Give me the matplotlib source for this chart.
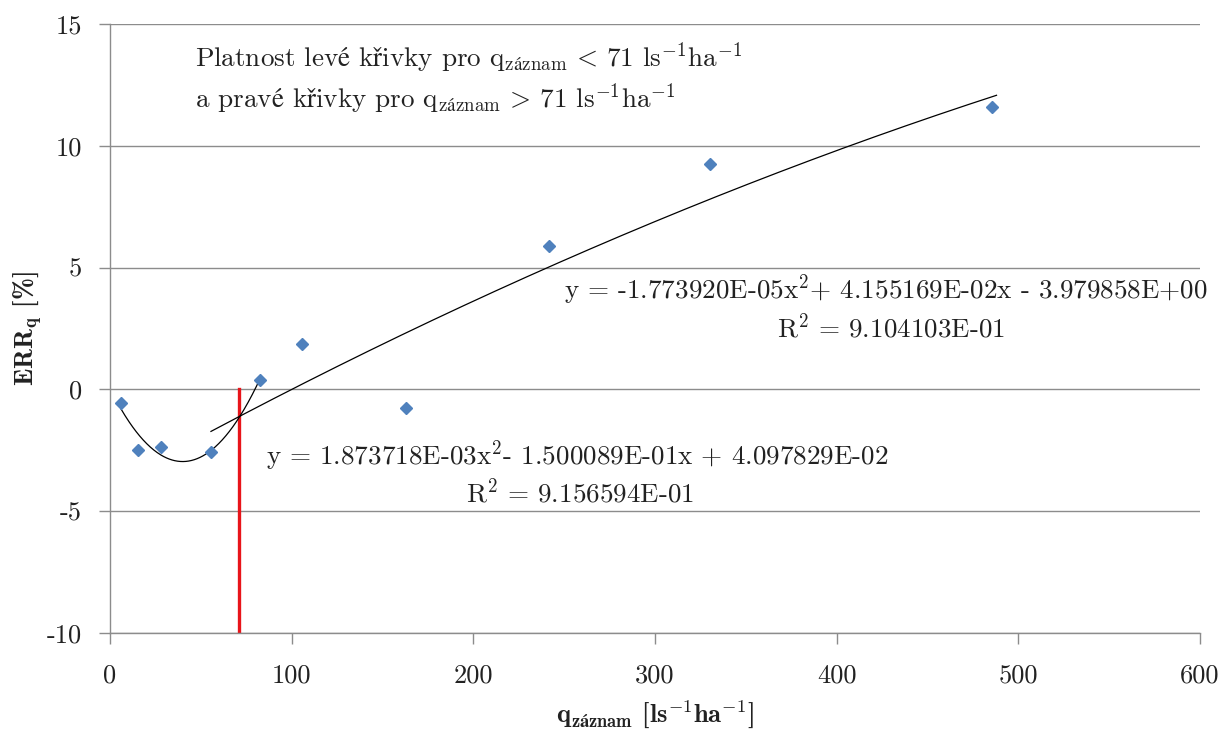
import matplotlib
matplotlib.use("Agg")
import matplotlib.pyplot as plt
import numpy as np

# measured points
q_zaznam = [6.0, 15.4, 28.1, 55.6, 82.6, 105.7, 162.9, 241.6, 330.3, 485.5]
err_q = [-0.56, -2.49, -2.36, -2.57, 0.39, 1.86, -0.76, 5.89, 9.25, 11.59]

# polynomial trend lines (a*x^2 + b*x + c)
left_coef = [1.873718e-03, -1.500089e-01, 4.097829e-02]
left_range = [6.0, 82.6]
right_coef = [-1.773920e-05, 4.155169e-02, -3.979858e+00]
right_range = [55.6, 488.0]

q_limit = 71

x_ticks = [0, 100, 200, 300, 400, 500, 600]
y_ticks = [-10, -5, 0, 5, 10, 15]

plt.rcParams["font.family"] = ["cmr10", "Liberation Serif"]
plt.rcParams["mathtext.fontset"] = "cm"
plt.rcParams["axes.unicode_minus"] = False
plt.rcParams["axes.formatter.use_mathtext"] = False

fig = plt.figure(figsize=(12.19, 7.33), dpi=100)
ax = fig.add_axes([0.0902, 0.1364, 0.8942, 0.8309])

gray = "#8c8c8c"
ax.set_xlim(0, 600)
ax.set_ylim(-10, 15)
ax.set_xticks(x_ticks)
ax.set_yticks(y_ticks)
ax.yaxis.grid(True, color=gray, linewidth=1.0)
ax.set_axisbelow(True)
for s in ["top", "right"]:
    ax.spines[s].set_visible(False)
for s in ["left", "bottom"]:
    ax.spines[s].set_color(gray)
    ax.spines[s].set_linewidth(1.0)
ax.tick_params(axis="both", direction="out", length=8, width=1.0, color=gray,
               labelsize=19, labelcolor="#222222")
ax.tick_params(axis="x", pad=14)
ax.tick_params(axis="y", pad=12)

# red limit line
ax.plot([q_limit, q_limit], [-10, 0], color="#e8141a", linewidth=2.4, zorder=2)

# trend curves
xl = np.linspace(left_range[0], left_range[1], 200)
ax.plot(xl, np.polyval(left_coef, xl), color="black", linewidth=0.9, zorder=3)
xr = np.linspace(right_range[0], right_range[1], 200)
ax.plot(xr, np.polyval(right_coef, xr), color="black", linewidth=0.9, zorder=3)

ax.plot(q_zaznam, err_q, linestyle="none", marker="D", markersize=6.5,
        color="#4f81bd", zorder=4)

# cmr10 has no accented letters, so those go through mathtext
e_acc = "$\\mathrm{\u00e9}$"
r_car = "$\\mathrm{\u0159}$"
q_sub = "$\\mathrm{q}_{\\mathrm{z\u00e1znam}}$"
unit = "ls$^{-1}$ha$^{-1}$"

tc = "#222222"
fs = 19.5
ax.text(47, 13.6,
        f"Platnost lev{e_acc} k{r_car}ivky pro {q_sub}$\\,<\\,$71 {unit}",
        fontsize=fs, color=tc, ha="left", va="center")
ax.text(47, 11.95,
        f"a prav{e_acc} k{r_car}ivky pro {q_sub}$\\,>\\,$71 {unit}",
        fontsize=fs, color=tc, ha="left", va="center")

ax.text(427, 4.1, "y = -1.773920E-05x$^2$+ 4.155169E-02x - 3.979858E+00",
        fontsize=fs, color=tc, ha="center", va="center", clip_on=False)
ax.text(430, 2.55, "R$^2$ = 9.104103E-01",
        fontsize=fs, color=tc, ha="center", va="center")

ax.text(257, -2.7, "y = 1.873718E-03x$^2$- 1.500089E-01x + 4.097829E-02",
        fontsize=fs, color=tc, ha="center", va="center")
ax.text(259, -4.2, "R$^2$ = 9.156594E-01",
        fontsize=fs, color=tc, ha="center", va="center")

ax.set_xlabel("$\\mathbf{q}_{\\mathbf{z\u00e1znam}}$ [ls$^{\\mathbf{-1}}$ha$^{\\mathbf{-1}}$]",
              fontsize=19, family=["cmb10", "Liberation Serif"], color=tc, labelpad=8)
ax.set_ylabel("$\\mathbf{ERR}_{\\mathbf{q}}$ [%]",
              fontsize=19, family=["cmb10", "Liberation Serif"], color=tc, labelpad=2)

fig.savefig("out.png", dpi=100)
